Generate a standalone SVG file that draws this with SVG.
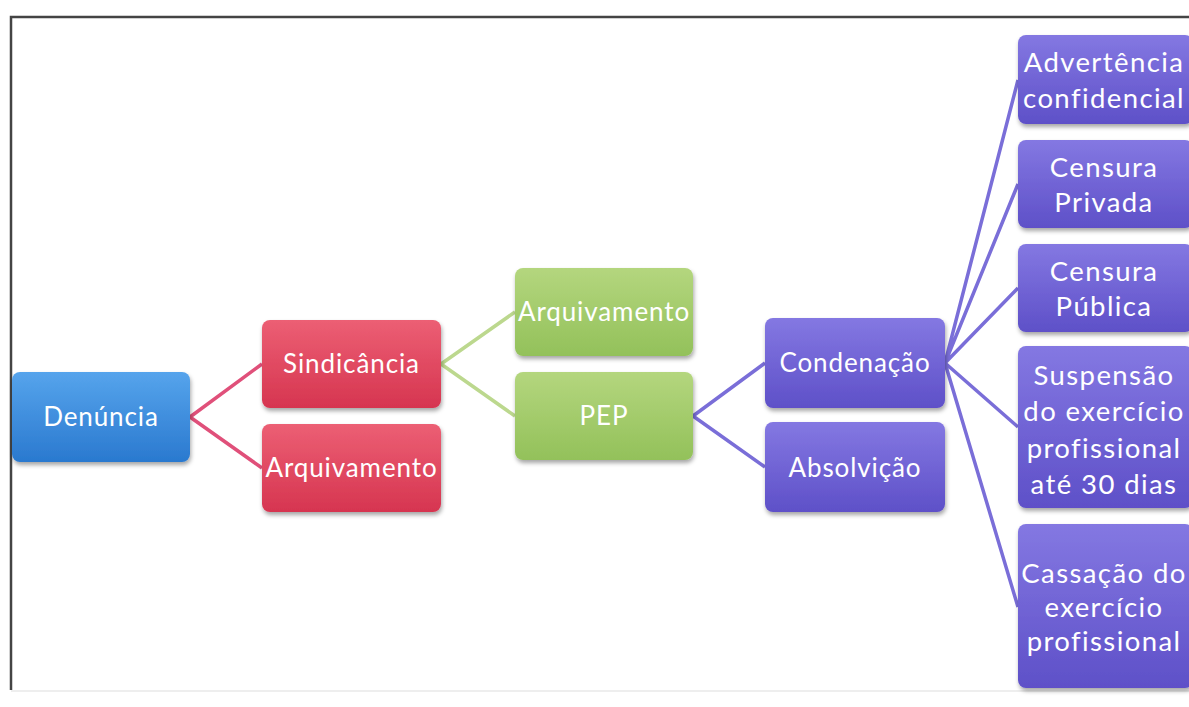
<svg xmlns="http://www.w3.org/2000/svg" width="1189" height="707" viewBox="0 0 1189 707">
<style>
.t{font-family:Lato,"Open Sans","Liberation Sans",sans-serif;font-size:26px;letter-spacing:0.9px;fill:#fff;text-anchor:middle;dominant-baseline:central}
.r{font-size:27.5px;letter-spacing:1.4px}
.c{fill:none;stroke-width:3.5}
</style>
<defs>
<linearGradient id="gb" x1="0" y1="0" x2="0" y2="1"><stop offset="0" stop-color="#56a4ec"/><stop offset="1" stop-color="#2a79cf"/></linearGradient>
<linearGradient id="gr" x1="0" y1="0" x2="0" y2="1"><stop offset="0" stop-color="#ec5f74"/><stop offset="1" stop-color="#d63550"/></linearGradient>
<linearGradient id="gg" x1="0" y1="0" x2="0" y2="1"><stop offset="0" stop-color="#b4d67e"/><stop offset="1" stop-color="#93c15a"/></linearGradient>
<linearGradient id="gp" x1="0" y1="0" x2="0" y2="1"><stop offset="0" stop-color="#8478e2"/><stop offset="1" stop-color="#5e50c8"/></linearGradient>
<filter id="sh" x="-10%" y="-10%" width="125%" height="130%"><feDropShadow dx="1" dy="3" stdDeviation="2" flood-color="#000" flood-opacity="0.35"/></filter>
</defs>
<rect width="1189" height="707" fill="#fff"/>
<path d="M1189 17 H11 V690" fill="none" stroke="#444" stroke-width="2.5"/>
<line x1="11" y1="691" x2="1189" y2="691" stroke="#ddd" stroke-width="1"/>
<g id="connectors">
<path class="c" stroke="#e0507a" d="M190 417 L262 364 M190 417 L262 468"/>
<path class="c" stroke="#bcd88e" d="M441 364 L515 312 M441 364 L515 416"/>
<path class="c" stroke="#7a6ed8" d="M693 416 L765 363 M693 416 L765 467"/>
<path class="c" stroke="#7a6ed8" d="M945 363 L1018 80 M945 363 L1018 184 M945 363 L1018 288 M945 363 L1018 427 M945 363 L1018 607"/>
</g>
<g id="n-denuncia"><rect x="12" y="372" width="178" height="90" rx="8" fill="url(#gb)" filter="url(#sh)"/><text class="t" x="101" y="416">Denúncia</text></g>
<g id="n-sindicancia"><rect x="262" y="320" width="179" height="88" rx="8" fill="url(#gr)" filter="url(#sh)"/><text class="t" x="351.5" y="363">Sindicância</text></g>
<g id="n-arquivamento1"><rect x="262" y="424" width="179" height="88" rx="8" fill="url(#gr)" filter="url(#sh)"/><text class="t" x="351.5" y="467">Arquivamento</text></g>
<g id="n-arquivamento2"><rect x="515" y="268" width="178" height="88" rx="8" fill="url(#gg)" filter="url(#sh)"/><text class="t" x="604" y="311">Arquivamento</text></g>
<g id="n-pep"><rect x="515" y="372" width="178" height="88" rx="8" fill="url(#gg)" filter="url(#sh)"/><text class="t" x="604" y="415">PEP</text></g>
<g id="n-condenacao"><rect x="765" y="318" width="180" height="90" rx="8" fill="url(#gp)" filter="url(#sh)"/><text class="t" x="855" y="362">Condenação</text></g>
<g id="n-absolvicao"><rect x="765" y="422" width="180" height="90" rx="8" fill="url(#gp)" filter="url(#sh)"/><text class="t" x="855" y="467">Absolvição</text></g>
<g id="n-advertencia"><rect x="1018" y="35" width="175" height="89" rx="8" fill="url(#gp)" filter="url(#sh)"/><text class="t r" x="1104" y="61">Advertência</text><text class="t r" x="1104" y="97">confidencial</text></g>
<g id="n-censura-privada"><rect x="1018" y="140" width="175" height="88" rx="8" fill="url(#gp)" filter="url(#sh)"/><text class="t r" x="1104" y="166">Censura</text><text class="t r" x="1104" y="201">Privada</text></g>
<g id="n-censura-publica"><rect x="1018" y="244" width="175" height="88" rx="8" fill="url(#gp)" filter="url(#sh)"/><text class="t r" x="1104" y="270">Censura</text><text class="t r" x="1104" y="305">Pública</text></g>
<g id="n-suspensao"><rect x="1018" y="346" width="175" height="162" rx="8" fill="url(#gp)" filter="url(#sh)"/><text class="t r" x="1104" y="374">Suspensão</text><text class="t r" x="1104" y="410">do exercício</text><text class="t r" x="1104" y="447">profissional</text><text class="t r" x="1104" y="483">até 30 dias</text></g>
<g id="n-cassacao"><rect x="1018" y="524" width="175" height="164" rx="8" fill="url(#gp)" filter="url(#sh)"/><text class="t r" x="1104" y="572">Cassação do</text><text class="t r" x="1104" y="606">exercício</text><text class="t r" x="1104" y="640">profissional</text></g>
</svg>
